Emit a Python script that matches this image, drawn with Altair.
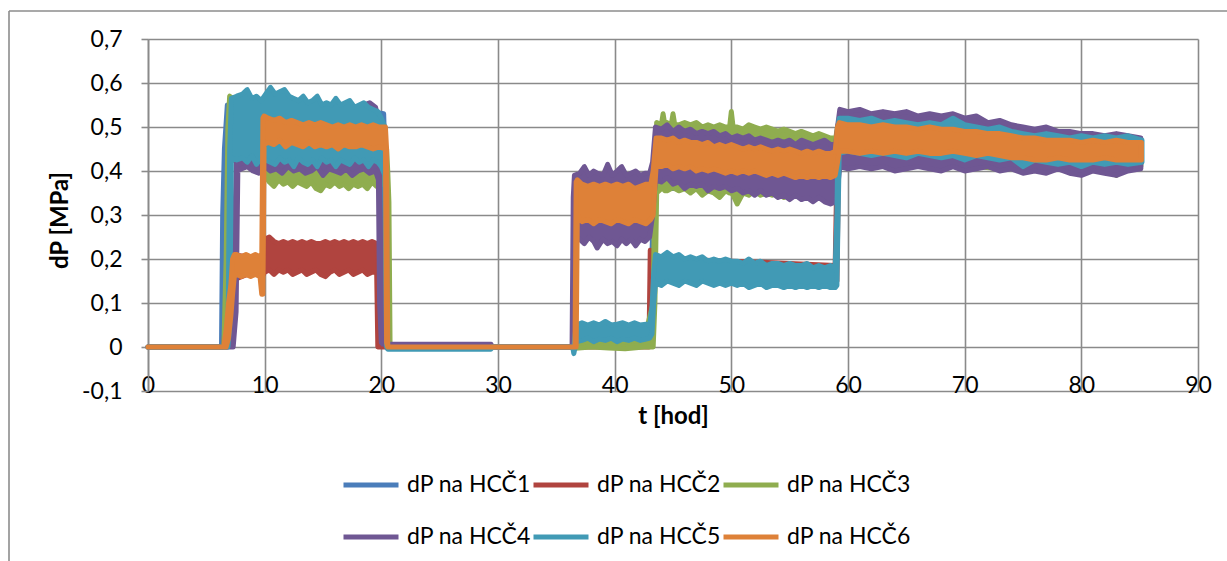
import altair as alt
import pandas as pd

NAMES = ["dP na HCČ1", "dP na HCČ2", "dP na HCČ3", "dP na HCČ4", "dP na HCČ5", "dP na HCČ6"]
COLORS = ["#4A7DBA", "#B0443F", "#8FAD4F", "#6F5793", "#419AB5", "#DE8138"]

X_TICKS = [0, 10, 20, 30, 40, 50, 60, 70, 80, 90]
Y_TICKS = [-0.1, 0.0, 0.1, 0.2, 0.3, 0.4, 0.5, 0.6, 0.7]

# (t [hod], lower edge of trace band, upper edge of trace band)
S1 = [(0, 0, 0), (6.3, 0, 0), (6.4, 0, 0.3), (6.55, 0.25, 0.45), (6.8, 0.42, 0.55), (8, 0.43, 0.55),
      (10, 0.43, 0.55), (12, 0.43, 0.55), (14, 0.43, 0.54), (16, 0.43, 0.54), (18, 0.43, 0.54),
      (20.2, 0.43, 0.53), (20.35, 0.0, 0.4), (20.5, 0, 0), (36.4, 0, 0), (36.5, 0, 0.0),
      (36.7, 0.02, 0.04), (39, 0.02, 0.045), (41, 0.02, 0.04), (43.0, 0.02, 0.045), (43.3, 0.1, 0.3),
      (43.5, 0.36, 0.47), (47, 0.36, 0.47), (51, 0.35, 0.46), (55, 0.345, 0.455), (58.9, 0.34, 0.45),
      (59.1, 0.38, 0.48), (59.3, 0.42, 0.5), (65, 0.42, 0.5), (70, 0.42, 0.49), (75, 0.41, 0.48),
      (80, 0.41, 0.47), (85.1, 0.42, 0.46)]

S2 = [(0, 0, 0), (6.5, 0, 0), (6.8, 0.0, 0.15), (7.1, 0.15, 0.21), (8.5, 0.165, 0.205), (9.9, 0.165, 0.205),
      (10.0, .17, .245), (10.4, .175, .25), (10.8, .165, .24), (11.2, .175, .235), (11.6, .17, .24),
      (12.0, .175, .235), (12.4, .165, .24), (12.8, .17, .235), (13.2, .175, .24), (13.6, .165, .235),
      (14.0, .17, .24), (14.4, .175, .235), (14.8, .165, .235), (15.2, .16, .24), (15.6, .17, .235),
      (16.0, .175, .24), (16.4, .165, .235), (16.8, .17, .24), (17.2, .175, .235), (17.6, .165, .24),
      (18.0, .17, .235), (18.4, .175, .24), (18.8, .165, .235), (19.2, .17, .24), (19.6, .17, .235),
      (19.7, 0.0, 0.2), (19.8, 0, 0), (36.5, 0, 0), (36.6, 0.0, 0.02), (42.95, 0.0, 0.02),
      (43.05, 0.02, 0.22), (43.2, 0.155, 0.205), (45, .155, .2), (50, .15, .195), (55, .145, .19),
      (58.9, .145, .185), (59.05, 0.15, 0.4), (59.2, 0.43, 0.5), (70, .43, .49), (85.1, .43, .47)]

S3 = [(0, 0, 0), (6.5, 0, 0), (6.7, 0, 0.2), (6.85, 0.15, 0.5), (7.0, 0.42, 0.57),
      (7.5, .43, .56), (8.0, .425, .55), (8.5, .43, .555), (9.0, .425, .55), (9.5, .43, .55), (10.0, .39, .5),
      (10.4, .375, .47), (10.8, .365, .46), (11.2, .38, .46), (11.6, .37, .455), (12.0, .375, .46),
      (12.4, .365, .455), (12.8, .375, .46), (13.2, .37, .45), (13.6, .365, .455), (14.0, .375, .45),
      (14.4, .36, .455), (14.8, .355, .45), (15.2, .37, .455), (15.6, .365, .45), (16.0, .375, .455),
      (16.4, .365, .45), (16.8, .37, .455), (17.2, .36, .45), (17.6, .37, .455), (18.0, .365, .45),
      (18.4, .37, .455), (18.8, .36, .45), (19.2, .375, .455), (19.6, .365, .45), (20.0, .37, .455),
      (20.45, .37, .45), (20.55, 0.3, 0.4), (20.65, 0.0, 0.33), (20.75, 0, 0),
      (36.5, 0, 0), (36.6, -0.003, 0.015), (38.0, 0.0, 0.012), (39.5, -0.002, 0.016), (40.9, -0.004, 0.012),
      (42.5, 0.0, 0.015), (43.3, 0.0, 0.1), (43.45, 0.1, 0.4), (43.6, 0.35, 0.51),
      (44.0, .36, .505), (44.15, .36, .53), (44.3, .355, .505), (44.5, .355, .51), (44.85, .36, .505),
      (45.0, .365, .53), (45.15, .36, .505), (45.5, .355, .505), (46.0, .36, .51), (46.5, .35, .505),
      (47.0, .36, .51), (47.5, .345, .5), (48.0, .355, .505), (48.5, .35, .5), (49.0, .34, .505),
      (49.5, .355, .5), (49.85, .35, .5), (50.0, .35, .535), (50.15, .345, .5), (50.5, .325, .5),
      (51.0, .35, .495), (51.5, .345, .505), (52.0, .355, .5), (52.5, .345, .495), (53.0, .35, .5),
      (53.5, .345, .495), (54.0, .35, .49), (54.5, .34, .495), (55.0, .35, .49), (55.5, .345, .485),
      (56.0, .35, .49), (56.5, .345, .485), (57.0, .35, .48), (57.5, .345, .485), (58.0, .35, .48),
      (58.5, .345, .475), (58.95, .35, .475), (59.1, 0.38, 0.5), (59.3, .415, .52), (61, .415, .515),
      (63, .41, .515), (65, .415, .51), (67, .41, .505), (69, .415, .505), (71, .41, .5), (73, .405, .495),
      (75, .405, .49), (77, .41, .485), (79, .405, .48), (81, .41, .48), (82.8, .405, .475),
      (83.0, .39, .475), (83.2, .405, .475), (85.1, .41, .47)]

S4 = [(0, 0, 0), (6.9, 0, 0), (7.3, 0.0, 0.1), (7.55, 0.08, 0.4), (7.7, 0.4, 0.52),
      (8.0, .405, .54), (8.5, .41, .545), (9.0, .40, .54), (9.5, .395, .545), (10.0, .41, .54),
      (10.5, .40, .545), (11.0, .405, .54), (11.5, .395, .545), (12.0, .41, .54), (12.5, .40, .54),
      (13.0, .405, .545), (13.5, .395, .54), (14.0, .40, .54), (14.5, .41, .545), (15.0, .39, .54),
      (15.5, .405, .545), (16.0, .40, .54), (16.5, .395, .545), (17.0, .405, .54), (17.5, .39, .545),
      (18.0, .40, .54), (18.5, .405, .55), (19.0, .395, .555), (19.5, .40, .545), (19.75, 0.38, 0.52),
      (19.85, 0.1, 0.45), (20.0, 0.01, 0.15), (20.15, 0.006, 0.006), (29.4, 0.006, 0.006), (29.5, 0, 0),
      (36.35, 0, 0), (36.45, 0.0, 0.34), (36.55, 0.25, 0.39),
      (37.0, .245, .395), (37.4, .235, .41), (37.8, .25, .39), (38.2, .24, .40), (38.5, .225, .395),
      (39.0, .245, .39), (39.4, .235, .415), (39.8, .24, .39), (40.2, .23, .40), (40.6, .245, .41),
      (41.0, .235, .39), (41.4, .245, .395), (41.8, .23, .40), (42.2, .245, .39), (42.6, .24, .395),
      (43.0, .25, .395), (43.25, 0.3, 0.42), (43.5, 0.38, 0.5),
      (44.0, .375, .495), (44.5, .385, .505), (45.0, .37, .49), (45.5, .375, .5), (46.0, .36, .49),
      (46.5, .37, .495), (47.0, .365, .485), (47.5, .37, .49), (48.0, .355, .485), (48.5, .365, .49),
      (49.0, .36, .48), (49.5, .365, .485), (50.0, .355, .475), (50.5, .36, .48), (51.0, .35, .475),
      (51.5, .355, .48), (52.0, .345, .47), (52.5, .355, .475), (53.0, .345, .47), (53.5, .35, .465),
      (54.0, .34, .47), (54.5, .345, .465), (55.0, .335, .47), (55.5, .345, .46), (56.0, .335, .47),
      (56.5, .34, .465), (57.0, .33, .46), (57.5, .34, .465), (58.0, .33, .47), (58.5, .325, .46),
      (58.95, .33, .46), (59.1, 0.36, 0.5), (59.3, .41, .54), (60, .405, .535), (61, .41, .54),
      (62, .405, .53), (63, .41, .535), (64, .40, .53), (65, .405, .535), (66, .41, .525), (67, .405, .53),
      (68, .40, .525), (69, .41, .53), (70, .40, .52), (71, .405, .525), (72, .41, .51), (73, .40, .515),
      (74, .405, .505), (75, .395, .50), (76, .40, .495), (77, .395, .50), (78, .405, .49), (79, .395, .49),
      (80, .39, .485), (81, .40, .485), (82, .395, .48), (83, .39, .485), (84, .40, .48), (85.1, .405, .475)]

S5 = [(0, 0, 0), (6.85, 0, 0.0), (7.0, 0.05, 0.45), (7.15, 0.43, 0.565),
      (7.6, .425, .57), (8.1, .43, .575), (8.5, .42, .585), (8.9, .435, .565), (9.3, .415, .57),
      (9.7, .43, .56), (10.1, .425, .575), (10.5, .42, .59), (10.9, .415, .575), (11.3, .43, .58),
      (11.7, .42, .585), (12.1, .425, .57), (12.5, .41, .565), (12.9, .43, .56), (13.3, .42, .57),
      (13.7, .415, .555), (14.1, .425, .56), (14.5, .41, .57), (14.9, .43, .55), (15.3, .42, .555),
      (15.7, .425, .55), (16.1, .41, .565), (16.5, .425, .55), (16.9, .42, .555), (17.3, .415, .56),
      (17.7, .43, .545), (18.1, .42, .55), (18.5, .425, .555), (18.9, .41, .545), (19.3, .425, .54),
      (19.7, .42, .535), (20.0, .41, .52), (20.3, .39, .50), (20.45, 0.0, 0.3), (20.55, -0.005, -0.005),
      (29.4, -0.005, -0.005), (29.5, 0, 0), (36.4, 0, 0), (36.5, -0.015, 0.0), (36.7, 0.012, 0.05),
      (37.2, .015, .055), (37.7, .02, .05), (38.2, .012, .055), (38.7, .018, .05), (39.2, .015, .058),
      (39.7, .02, .05), (40.2, .012, .052), (40.7, .018, .055), (41.2, .015, .05), (41.7, .02, .055),
      (42.2, .015, .05), (42.7, .018, .052), (43.0, .02, .05), (43.2, 0.03, 0.09), (43.35, 0.1, 0.17),
      (43.5, .145, .21), (44.0, .14, .205), (44.5, .15, .215), (45.0, .145, .205), (45.5, .14, .21),
      (46.0, .15, .20), (46.5, .145, .205), (47.0, .14, .20), (47.5, .15, .205), (48.0, .145, .195),
      (48.5, .14, .20), (49.0, .145, .195), (49.5, .14, .20), (50.0, .145, .195), (50.5, .14, .195),
      (51.0, .145, .19), (51.5, .135, .20), (52.0, .14, .19), (52.5, .145, .195), (53.0, .135, .185),
      (53.5, .14, .19), (54.0, .14, .19), (54.5, .135, .185), (55.0, .14, .19), (55.5, .135, .185),
      (56.0, .14, .185), (56.5, .135, .19), (57.0, .14, .18), (57.5, .135, .185), (58.0, .14, .18),
      (58.5, .135, .185), (58.9, .135, .18), (59.05, 0.14, 0.3), (59.15, 0.3, 0.5), (59.25, .44, .52),
      (60, .445, .52), (61, .44, .515), (62, .435, .52), (63, .44, .51), (64, .435, .515), (65, .43, .51),
      (66, .44, .505), (67, .435, .51), (68, .43, .505), (69, .435, .52), (70, .425, .505), (71, .435, .50),
      (72, .43, .495), (73, .425, .50), (74, .43, .49), (75, .41, .485), (76, .425, .48), (77, .42, .485),
      (78, .415, .48), (79, .42, .475), (80, .41, .48), (81, .42, .475), (82, .415, .48), (83, .42, .475),
      (84, .415, .48), (85.2, .42, .47)]

S6 = [(0, 0, 0), (6.5, 0, 0), (6.7, 0.0, 0.04), (6.9, 0.02, 0.1), (7.1, 0.07, 0.14), (7.25, 0.12, 0.2),
      (7.4, 0.16, 0.21), (7.6, .165, .21), (8.0, .16, .205), (8.4, .165, .21), (8.8, .16, .205),
      (9.2, .165, .21), (9.6, .16, .205), (9.75, 0.12, 0.2), (9.85, 0.12, 0.52), (9.95, 0.46, 0.525),
      (10.3, .465, .52), (10.8, .46, .515), (11.3, .47, .52), (11.8, .455, .51), (12.3, .465, .515),
      (12.8, .46, .51), (13.3, .455, .505), (13.8, .465, .51), (14.3, .455, .505), (14.8, .46, .51),
      (15.3, .455, .505), (15.8, .46, .50), (16.3, .45, .505), (16.8, .46, .50), (17.3, .455, .505),
      (17.8, .455, .50), (18.3, .46, .505), (18.8, .455, .50), (19.3, .45, .505), (19.8, .455, .50),
      (20.35, .45, .50), (20.45, 0.01, 0.45), (20.55, 0, 0), (36.6, 0, 0), (36.7, 0.0, 0.375),
      (36.8, 0.3, 0.38), (37.2, .285, .37), (37.7, .29, .365), (38.2, .28, .37), (38.7, .29, .365),
      (39.2, .285, .37), (39.7, .28, .365), (40.2, .29, .37), (40.7, .285, .365), (41.2, .28, .37),
      (41.7, .29, .36), (42.2, .285, .365), (42.7, .28, .37), (43.1, .29, .37), (43.3, 0.3, 0.4),
      (43.55, 0.41, 0.475), (44.0, .41, .475), (44.5, .415, .47), (45.0, .405, .475), (45.5, .41, .465),
      (46.0, .405, .47), (46.5, .41, .465), (47.0, .40, .465), (47.5, .405, .46), (48.0, .40, .465),
      (48.5, .405, .455), (49.0, .40, .46), (49.5, .395, .455), (50.0, .40, .46), (50.5, .395, .455),
      (51.0, .40, .45), (51.5, .395, .455), (52.0, .40, .45), (52.5, .395, .455), (53.0, .39, .45),
      (53.5, .395, .445), (54.0, .39, .45), (54.5, .395, .445), (55.0, .39, .45), (55.5, .385, .445),
      (56.0, .39, .44), (56.5, .385, .445), (57.0, .39, .44), (57.5, .385, .445), (58.0, .39, .44),
      (58.5, .385, .44), (58.9, .39, .445), (59.1, 0.42, 0.5), (59.25, .445, .51),
      (60, .445, .505), (61, .44, .505), (62, .445, .50), (63, .44, .505), (64, .445, .50), (65, .44, .50),
      (66, .445, .495), (67, .44, .50), (68, .44, .495), (69, .445, .495), (70, .44, .49), (71, .435, .49),
      (72, .44, .485), (73, .435, .485), (74, .43, .48), (75, .43, .475), (76, .425, .475), (77, .425, .47),
      (78, .43, .47), (79, .425, .47), (80, .425, .465), (81, .425, .47), (82, .43, .465), (83, .425, .47),
      (84, .425, .465), (85.15, .425, .465)]

SERIES = [S1, S2, S3, S4, S5, S6]

rows = []
for name, pts in zip(NAMES, SERIES):
    for t, lo, hi in pts:
        rows.append({"s": name, "t": t, "lo": lo, "hi": hi})
df = pd.DataFrame(rows)

GRID = "#8A8A8A"
FONT = "Lato"

x_axis = alt.Axis(values=X_TICKS, format="d", grid=True, gridColor=GRID, gridWidth=1.6,
                  domain=False, ticks=False, labelFont=FONT, labelFontSize=23, labelColor="black",
                  labelBaseline="alphabetic", labelPadding=1, labelFlush=False, labelOverlap=False,
                  titleFont=FONT, titleFontSize=24, titleFontWeight="bold", titleColor="black",
                  titleX=525, titleY=25, titleBaseline="middle")

y_axis = alt.Axis(values=Y_TICKS,
                  labelExpr="replace(replace(format(datum.value, '.1~f'), '.', ','), '\u2212', '-')",
                  grid=True, gridColor=GRID, gridWidth=1.6, domain=True, domainColor=GRID,
                  domainWidth=1.6, ticks=True, tickColor=GRID, tickSize=7, tickWidth=1.6,
                  labelPadding=19, labelFont=FONT, labelFontSize=23, labelColor="black",
                  titleFont=FONT, titleFontSize=24, titleFontWeight="bold", titleColor="black",
                  titleX=-88, titleY=181, titleBaseline="middle")

legend = alt.Legend(orient="none", legendX=193, legendY=416, direction="horizontal", columns=3,
                    symbolType="stroke", symbolSize=3025, symbolStrokeWidth=5, symbolOpacity=1,
                    labelFont=FONT, labelFontSize=23, labelColor="black", labelOffset=6,
                    columnPadding=-19, rowPadding=10, padding=0, labelLimit=300)

base = alt.Chart(df).mark_area(opacity=1, strokeWidth=5, strokeJoin="round", strokeCap="round",
                               interpolate="linear").encode(
    x=alt.X("t:Q", scale=alt.Scale(domain=[0, 90], nice=False, zero=False), axis=x_axis, title="t [hod]"),
    y=alt.Y("lo:Q", scale=alt.Scale(domain=[-0.1, 0.7], nice=False, zero=False), axis=y_axis,
            title="dP [MPa]"),
    y2="hi:Q",
    fill=alt.Fill("s:N", scale=alt.Scale(domain=NAMES, range=COLORS), legend=legend, title=None),
    stroke=alt.Stroke("s:N", scale=alt.Scale(domain=NAMES, range=COLORS), legend=None),
)

layers = [base.transform_filter(alt.datum.s == n) for n in NAMES]

one = pd.DataFrame({"k": [0]})
frame_left = alt.Chart(one).mark_rule(color="#8C8C8C", strokeWidth=1.6).encode(
    x=alt.value(-139), y=alt.value(-28), y2=alt.value(530))
frame_top = alt.Chart(one).mark_rule(color="#8C8C8C", strokeWidth=1.6).encode(
    x=alt.value(-139), x2=alt.value(1090), y=alt.value(-28))

chart = alt.layer(frame_left, frame_top, *layers).properties(
    width=1050, height=352,
    autosize=alt.AutoSizeParams(type="none"),
    padding={"left": 148, "top": 39, "right": 29, "bottom": 170},
    background="white",
).configure_view(stroke=None)

chart.save("out.html", embed_options={"renderer": "svg", "actions": False})
